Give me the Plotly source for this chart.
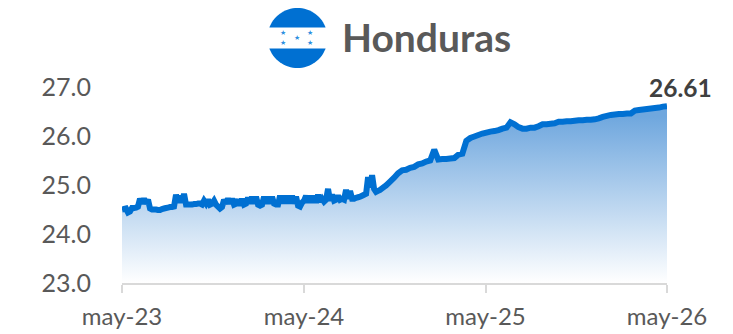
import math
import pandas as pd
import plotly.graph_objects as go

values_early = [
 24.50,24.51,24.52,24.44,24.46,24.53,24.53,24.54,24.56,24.72,24.62,24.72,24.62,24.70,24.52,24.50,24.50,24.50,24.49,24.49,
 24.51,24.52,24.53,24.54,24.55,24.55,24.56,24.80,24.64,24.78,24.64,24.82,24.60,24.60,24.60,24.60,24.61,24.61,24.62,24.62,
 24.60,24.68,24.62,24.70,24.60,24.62,24.68,24.60,24.56,24.52,24.55,24.70,24.62,24.72,24.62,24.72,24.60,24.62,24.70,24.58,
 24.72,24.60,24.62,24.74,24.62,24.76,24.62,24.76,24.60,24.58,24.60,24.76,24.62,24.76,24.62,24.76,24.62,24.60,24.60,24.78,
 24.62,24.78,24.62,24.78,24.62,24.78,24.62,24.76,24.58,24.56,24.64,24.68,24.78,24.64,24.78,24.64,24.78,24.64,24.80,24.66,
 24.72,24.66,24.70,24.92,24.68,24.80,24.68,24.70,24.78,24.70,24.72,24.70,24.90,24.72,24.88,24.72,24.72,24.74,24.75,24.76,
 24.78,24.80,24.82,25.16,24.95,25.20,24.92,24.86,24.88,24.90,
]
values_late = [
 24.93,24.99,25.07,25.15,25.24,25.30,25.31,25.35,25.37,25.42,25.44,25.48,25.50,25.72,25.52,25.53,25.53,25.54,25.55,25.62,
 25.64,25.90,25.96,25.99,26.02,26.05,26.07,26.09,26.10,26.12,26.15,26.17,26.28,26.24,26.18,26.15,26.15,26.17,26.17,26.20,
 26.24,26.24,26.25,26.26,26.29,26.29,26.30,26.30,26.31,26.32,26.32,26.33,26.33,26.34,26.36,26.39,26.41,26.43,26.44,26.45,
 26.45,26.46,26.46,26.52,26.53,26.54,26.55,26.56,26.57,26.58,26.60,26.61,
]
dates_early = pd.date_range("2023-05-15", "2024-10-15", periods=len(values_early))
dates_late = pd.date_range("2024-10-19", "2026-05-15", periods=len(values_late))
dates = list(dates_early) + list(dates_late)
values = values_early + values_late
tick_dates = ["2023-05-15", "2024-05-15", "2025-05-15", "2026-05-15"]
tick_labels = ["may-23", "may-24", "may-25", "may-26"]
y_ticks = [23, 24, 25, 26, 27]
y_labels = ["23.0", "24.0", "25.0", "26.0", "27.0"]
title = "Honduras"
last_label = "26.61"

FONT = "Lato"
BLUE = "#0070D2"
GREY = "#595959"

L, R, T, B = 122, 66, 87, 51
pw, ph = 733 - L - R, 334 - T - B
def fx(p): return (p - L) / pw
def fy(p): return 1 - (p - T) / ph

fig = go.Figure(go.Scatter(
    x=dates, y=values, mode="lines",
    line=dict(color=BLUE, width=6, shape="linear", simplify=False),
    fill="tozeroy",
    fillgradient=dict(type="vertical", start=23, stop=26.4,
                      colorscale=[[0, "rgba(255,255,255,1)"], [1, "#6FA7DE"]]),
    cliponaxis=False, hoverinfo="skip", showlegend=False,
))

cx, cy, r, band = 297.5, 38, 30, 10.5
w = (r**2 - band**2) ** 0.5
def cap(sign):
    pts = []
    for i in range(41):
        a = math.pi * i / 40
        dy = r * math.sin(a)
        if dy >= band:
            pts.append((cx + r * math.cos(a), cy + sign * dy))
    path = (f"M {fx(cx+w)} {fy(cy+sign*band)} " + " ".join(f"L {fx(a)} {fy(b)}" for a, b in pts)
            + f" L {fx(cx-w)} {fy(cy+sign*band)} Z")
    return dict(type="path", xref="paper", yref="paper", path=path, fillcolor=BLUE, line=dict(width=0), layer="above")
shapes = [cap(-1), cap(1)]

annotations = [
    dict(text=f"<b>{title}</b>", xref="paper", yref="paper", x=fx(343), y=fy(37), xanchor="left", yanchor="middle",
         showarrow=False, font=dict(family=FONT, size=39, color=GREY), xshift=-3),
    dict(text=f"<b>{last_label}</b>", xref="paper", yref="paper", x=fx(711), y=fy(88), xanchor="right", yanchor="middle",
         showarrow=False, font=dict(family=FONT, size=24.5, color="#404040"), xshift=3),
]
for sx, sy in [(283, 33), (310, 33), (297, 38), (283, 43), (310, 43)]:
    annotations.append(dict(text="★", xref="paper", yref="paper", x=fx(sx), y=fy(sy), xanchor="center", yanchor="middle",
                            showarrow=False, font=dict(family="DejaVu Sans", size=7, color="#2F8FE0")))

fig.update_layout(
    width=733, height=334, autosize=False,
    margin=dict(l=L, r=R, t=T, b=B, pad=0, autoexpand=False),
    paper_bgcolor="white", plot_bgcolor="white",
    shapes=shapes, annotations=annotations,
    xaxis=dict(type="date", range=["2023-05-15", "2026-05-15"], tickmode="array", tickvals=tick_dates, ticktext=tick_labels,
               showgrid=False, showline=True, linecolor="#D9D9D9", linewidth=2, ticks="outside", ticklen=8, tickwidth=2,
               tickcolor="#D9D9D9", tickfont=dict(family=FONT, size=24, color=GREY), zeroline=False, ticklabelstandoff=3),
    yaxis=dict(range=[23, 27], tickmode="array", tickvals=y_ticks, ticktext=y_labels, showgrid=False, showline=False,
               ticks="outside", ticklen=25, tickcolor="rgba(0,0,0,0)", tickfont=dict(family=FONT, size=25, color=GREY), zeroline=False),
)
fig.write_html("out.html", config={"displayModeBar": False},
               post_script="document.body.style.margin='0';")
